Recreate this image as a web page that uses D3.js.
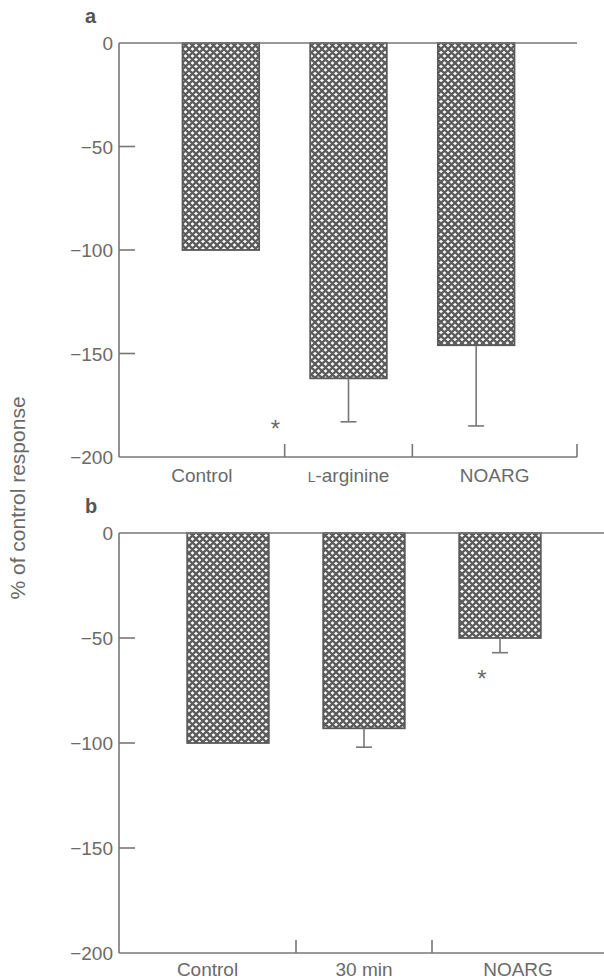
<!doctype html>
<html lang="en">

<head>
    <meta charset="utf-8">
    <title>% of control response</title>
    <style>
        body {
            margin: 0px;
            background: #fff;
            font-family: "Liberation Sans", Arial, Helvetica, sans-serif;
        }

        text {
            fill: #6a6a6a;
            font-size: 19px;
        }

        .axis-line {
            stroke: #777;
            stroke-width: 1.6;
            fill: none;
        }

        .bar {
            stroke: #5a5a5a;
            stroke-width: 1.8;
        }

        .err {
            stroke: #777;
            stroke-width: 1.6;
        }

        .panel-letter {
            font-weight: bold;
            font-size: 20px;
            fill: #555;
        }
    </style>
</head>

<body>

</body>
<script src="https://d3js.org/d3.v7.min.js"></script>
<script>
    // panel a
    const categoriesA = ['Control', 'L-arginine', 'NOARG'];
    const valuesA = [-100, -162, -146];
    const errorsA = [null, -183, -185];
    const starsA = [-184];

    // panel b
    const categoriesB = ['Control', '30 min', 'NOARG'];
    const valuesB = [-100, -93, -50];
    const errorsB = [null, -102, -57];
    const starsB = [-67];

    const yTicks = [0, -50, -100, -150, -200];
    const yDomain = [0, -200];

    const width = 604, height = 980;
    const axisX = 119;

    const svg = d3.select('body').append('svg')
        .attr('width', width)
        .attr('height', height);

    // diagonal cross-hatch fill
    const pat = svg.append('defs').append('pattern')
        .attr('id', 'hatch')
        .attr('patternUnits', 'userSpaceOnUse')
        .attr('width', 7)
        .attr('height', 7);
    pat.append('rect').attr('width', 7).attr('height', 7).attr('fill', '#fff');
    pat.append('path')
        .attr('d', 'M-1,-1 L8,8 M-1,8 L8,-1 M-1,6 L1,8 M6,-1 L8,1 M-1,1 L1,-1 M6,8 L8,6')
        .attr('stroke', '#5c5c5c')
        .attr('stroke-width', 2.3);

    function drawPanel(opts) {
        const g = svg.append('g');

        const y = d3.scaleLinear().domain(yDomain).range([opts.top, opts.bottom]);
        const x = d3.scaleBand().domain(opts.categories)
            .range(opts.barRange)
            .paddingInner(0.4)
            .paddingOuter(0.2);

        const data = opts.categories.map((c, i) => ({ cat: c, value: opts.values[i], err: opts.errors[i] }));

        // bars
        g.selectAll('rect.bar').data(data).enter()
            .append('rect')
            .attr('class', 'bar')
            .attr('fill', 'url(#hatch)')
            .attr('x', d => x(d.cat))
            .attr('y', y(0))
            .attr('width', x.bandwidth())
            .attr('height', d => y(d.value) - y(0));

        // error bars (downward only)
        const errData = data.filter(d => d.err !== null);
        g.selectAll('line.err-v').data(errData).enter()
            .append('line')
            .attr('class', 'err')
            .attr('x1', d => x(d.cat) + x.bandwidth() / 2)
            .attr('x2', d => x(d.cat) + x.bandwidth() / 2)
            .attr('y1', d => y(d.value))
            .attr('y2', d => y(d.err));
        g.selectAll('line.err-c').data(errData).enter()
            .append('line')
            .attr('class', 'err')
            .attr('x1', d => x(d.cat) + x.bandwidth() / 2 - 8)
            .attr('x2', d => x(d.cat) + x.bandwidth() / 2 + 8)
            .attr('y1', d => y(d.err))
            .attr('y2', d => y(d.err));

        // y axis
        g.append('line').attr('class', 'axis-line')
            .attr('x1', axisX).attr('x2', axisX)
            .attr('y1', y(yDomain[0])).attr('y2', y(yDomain[1]));

        g.selectAll('line.ytick').data(yTicks.filter(t => t !== 0 && t !== -200)).enter()
            .append('line').attr('class', 'axis-line')
            .attr('x1', axisX).attr('x2', axisX + 16)
            .attr('y1', d => y(d)).attr('y2', d => y(d));

        g.selectAll('text.ylab').data(yTicks).enter()
            .append('text')
            .attr('text-anchor', 'end')
            .attr('x', axisX - 6)
            .attr('y', d => y(d) + 7)
            .text(d => d === 0 ? '0' : '\u2212' + Math.abs(d));

        // zero line
        g.append('line').attr('class', 'axis-line')
            .attr('x1', axisX).attr('x2', opts.axisEnd)
            .attr('y1', y(0)).attr('y2', y(0));

        // base line with separators
        g.append('line').attr('class', 'axis-line')
            .attr('x1', axisX).attr('x2', opts.axisEnd)
            .attr('y1', y(-200)).attr('y2', y(-200));

        const step = x.step();
        const seps = opts.categories.slice(1).map(c => x(c) - step * x.paddingInner() / 2);
        const sepTicks = opts.endTick ? seps.concat([opts.axisEnd]) : seps;
        g.selectAll('line.sep').data(sepTicks).enter()
            .append('line').attr('class', 'axis-line')
            .attr('x1', d => d).attr('x2', d => d)
            .attr('y1', y(-200)).attr('y2', y(-200) - 13);

        // category labels centered between separators
        const bounds = [axisX].concat(seps).concat([opts.axisEnd]);
        const labels = g.selectAll('text.xlab').data(opts.categories).enter()
            .append('text')
            .attr('text-anchor', 'middle')
            .attr('x', (d, i) => (bounds[i] + bounds[i + 1]) / 2)
            .attr('y', y(-200) + opts.labelGap);
        labels.each(function (d) {
            const t = d3.select(this);
            if (d.startsWith('L-')) {
                t.append('tspan').style('font-size', '14px').text('L');
                t.append('tspan').text(d.slice(1));
            } else {
                t.text(d);
            }
        });

        // significance stars
        g.selectAll('text.star').data(opts.stars).enter()
            .append('text')
            .attr('text-anchor', 'middle')
            .attr('x', x(opts.starCat) + x.bandwidth() / 2 + opts.starDx)
            .attr('y', d => y(d) + 13)
            .style('font-size', '24px')
            .text('*');

        g.append('text').attr('class', 'panel-letter')
            .attr('x', 85).attr('y', opts.top - 20)
            .text(opts.letter);
    }

    drawPanel({
        letter: 'a', top: 43, bottom: 457, labelGap: 25,
        categories: categoriesA, values: valuesA, errors: errorsA,
        barRange: [157, 540], axisEnd: 577, endTick: true,
        stars: starsA, starCat: 'L-arginine', starDx: -73
    });

    drawPanel({
        letter: 'b', top: 533, bottom: 953, labelGap: 23,
        categories: categoriesB, values: valuesB, errors: errorsB,
        barRange: [160, 568], axisEnd: 604, endTick: false,
        stars: starsB, starCat: 'NOARG', starDx: -18
    });

    // shared y title
    svg.append('text')
        .attr('transform', 'translate(25,498) rotate(-90)')
        .attr('text-anchor', 'middle')
        .style('font-size', '21px')
        .text('% of control response');
</script>

</html>
